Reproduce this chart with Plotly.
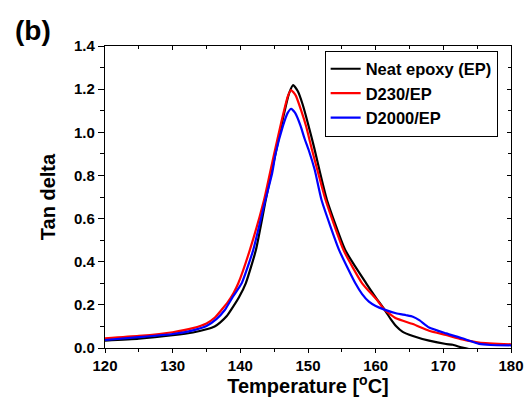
import plotly.graph_objects as go

# ---- data ----
series_names = ["Neat epoxy (EP)", "D230/EP", "D2000/EP"]

ep_temp = [120, 125, 130, 133, 135, 136.2, 137, 138, 138.7, 139.8, 140.8, 142.3, 143.75, 144.5,
           145.2, 146.2, 147.2, 147.8, 148.5, 149.2, 150.0, 150.9, 151.8, 152.8, 155.5, 158.6,
           160.0, 161.3, 162.2, 163.0, 164.0, 165.5, 167.9, 170.4, 171.4, 172.8, 174.0, 180]
ep_tan = [0.034, 0.043, 0.059, 0.072, 0.087, 0.10, 0.118, 0.148, 0.18, 0.235, 0.30, 0.454, 0.686, 0.80,
          0.90, 1.05, 1.18, 1.219, 1.19, 1.13, 1.04, 0.93, 0.81, 0.686, 0.454, 0.30,
          0.235, 0.178, 0.135, 0.102, 0.075, 0.056, 0.034, 0.0185, 0.015, 0.0015, -0.006, -0.006]

d230_temp = [120, 125, 130, 133, 135, 136.2, 137.2, 138.2, 139.0, 139.7, 141.4, 143.5, 144.3,
             145.0, 146.0, 147.0, 147.5, 148.2, 149.0, 149.7, 150.6, 151.6, 152.6, 155.25, 158.0,
             160.2, 161.3, 163.0, 165.5, 167.9, 170.4, 172.8, 175.3, 180]
d230_tan = [0.045, 0.056, 0.073, 0.092, 0.114, 0.14, 0.176, 0.215, 0.255, 0.30, 0.454, 0.686, 0.80,
            0.90, 1.04, 1.165, 1.196, 1.17, 1.10, 1.03, 0.918, 0.80, 0.686, 0.454, 0.30,
            0.2225, 0.178, 0.138, 0.111, 0.080, 0.060, 0.040, 0.025, 0.017]

d2000_temp = [120, 125, 130, 133, 135, 136.5, 137.7, 138.9, 140.2, 141.9, 143.7, 144.7, 145.2,
              146.3, 147.0, 147.5, 148.1, 148.9, 149.5, 150.1, 151.0, 152.0, 154.6, 157.0, 158.0,
              159.0, 160.0, 161.3, 163.0, 164.5, 165.5, 166.5, 167.9, 170.4, 172.8, 175.3, 177.0, 180]
d2000_tan = [0.037, 0.050, 0.065, 0.082, 0.102, 0.135, 0.176, 0.238, 0.30, 0.454, 0.686, 0.81, 0.90,
             1.03, 1.09, 1.109, 1.09, 1.03, 0.97, 0.918, 0.825, 0.686, 0.454, 0.30, 0.25,
             0.215, 0.195, 0.178, 0.161, 0.152, 0.145, 0.128, 0.095, 0.068, 0.045, 0.019, 0.014, 0.0125]

colors = ["#000000", "#ff0000", "#0000ff"]

x_range = [120, 180]
y_range = [0, 1.4]
x_ticks = [120, 130, 140, 150, 160, 170, 180]
y_ticks = [0.0, 0.2, 0.4, 0.6, 0.8, 1.0, 1.2, 1.4]
x_tick_text = [str(v) for v in x_ticks]
y_tick_text = ["%.1f" % v for v in y_ticks]

FONT = "Liberation Sans, Arial, sans-serif"

fig = go.Figure()
for name, xs, ys, c in zip(series_names,
                           [ep_temp, d230_temp, d2000_temp],
                           [ep_tan, d230_tan, d2000_tan], colors):
    fig.add_trace(go.Scatter(x=xs, y=ys, mode="lines", name=name,
                             line=dict(color=c, width=2.2, shape="spline", smoothing=0.5)))

# dummy trace so the mirror axes are drawn
fig.add_trace(go.Scatter(x=[None], y=[None], xaxis="x2", yaxis="y2",
                         showlegend=False, hoverinfo="skip"))

fig.update_layout(
    width=527, height=397,
    margin=dict(l=105, r=16, t=46, b=49, autoexpand=False),
    paper_bgcolor="white", plot_bgcolor="white",
    font=dict(family=FONT, color="black"),
    showlegend=True,
    legend=dict(x=0.541, y=0.985, xanchor="left", yanchor="top",
                bordercolor="black", borderwidth=1, bgcolor="white",
                font=dict(size=16.5, family=FONT, color="black", weight="bold"),
                tracegroupgap=0, itemwidth=30),
    xaxis=dict(range=x_range, tickvals=x_ticks, ticktext=x_tick_text, automargin=False,
               showgrid=False, zeroline=False, showline=True, linecolor="black", linewidth=1.3,
               ticks="outside", ticklen=4, tickwidth=1.2, tickcolor="black",
               minor=dict(dtick=5, ticks="outside", ticklen=3, tickwidth=1.2, tickcolor="black"),
               tickfont=dict(size=15, family=FONT, color="black", weight="bold"),
               title=dict(text="Temperature [<sup>o</sup>C]", standoff=7,
                          font=dict(size=20, family=FONT, color="black", weight="bold"))),
    yaxis=dict(range=y_range, tickvals=y_ticks, ticktext=y_tick_text, automargin=False,
               showgrid=False, zeroline=False, showline=True, linecolor="black", linewidth=1.3,
               ticks="outside", ticklen=6, tickwidth=1.2, tickcolor="black",
               minor=dict(dtick=0.1, ticks="outside", ticklen=4, tickwidth=1.2, tickcolor="black"),
               tickfont=dict(size=15, family=FONT, color="black", weight="bold"),
               title=dict(text="Tan delta", standoff=12,
                          font=dict(size=20, family=FONT, color="black", weight="bold"))),
    xaxis2=dict(range=x_range, overlaying="x", side="top", anchor="y", automargin=False,
                tickvals=x_ticks, showticklabels=False, showgrid=False, zeroline=False,
                showline=True, linecolor="black", linewidth=1.3,
                ticks="inside", ticklen=4, tickwidth=1, tickcolor="black",
                minor=dict(dtick=5, ticks="inside", ticklen=3, tickwidth=1, tickcolor="black")),
    yaxis2=dict(range=y_range, overlaying="y", side="right", anchor="x", automargin=False,
                tickvals=y_ticks, showticklabels=False, showgrid=False, zeroline=False,
                showline=True, linecolor="black", linewidth=1.3,
                ticks="inside", ticklen=4, tickwidth=1, tickcolor="black",
                minor=dict(dtick=0.1, ticks="inside", ticklen=3, tickwidth=1, tickcolor="black")),
    annotations=[dict(text="(b)", xref="paper", yref="paper", x=-0.177, y=1.05,
                      xanchor="center", yanchor="middle", showarrow=False,
                      font=dict(size=28, family=FONT, color="black", weight="bold"))],
)

fig.write_html("out.html", config={"displayModeBar": False},
               post_script="document.body.style.margin='0';document.body.style.padding='0';")
